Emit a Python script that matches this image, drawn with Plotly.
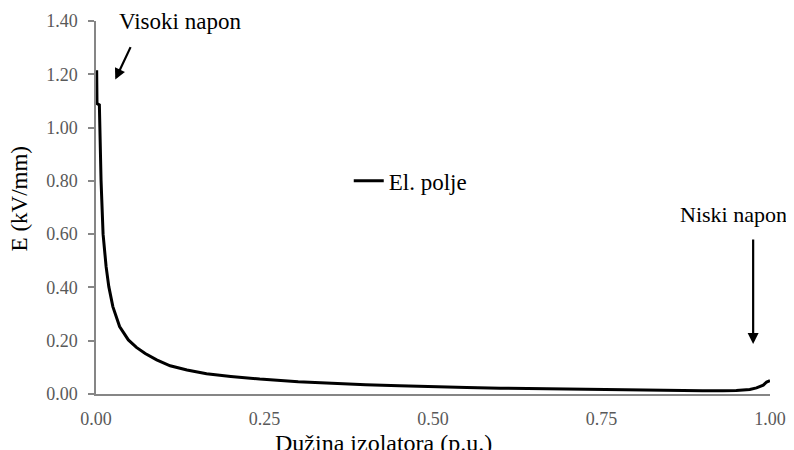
import plotly.graph_objects as go

# Data
x_pu = [0.001, 0.0015, 0.005, 0.0075, 0.0105, 0.015, 0.019, 0.025, 0.035, 0.048,
        0.060, 0.073, 0.090, 0.110, 0.135, 0.164, 0.200, 0.243, 0.300, 0.350,
        0.400, 0.450, 0.500, 0.550, 0.600, 0.650, 0.700, 0.750, 0.800, 0.850,
        0.900, 0.930, 0.950, 0.970, 0.980, 0.990, 0.995, 1.000]
E_field = [1.215, 1.090, 1.085, 0.800, 0.600, 0.478, 0.403, 0.328, 0.253, 0.203,
           0.175, 0.152, 0.128, 0.106, 0.090, 0.076, 0.066, 0.056, 0.046, 0.040,
           0.035, 0.031, 0.027, 0.024, 0.022, 0.020, 0.018, 0.016, 0.015, 0.013,
           0.012, 0.012, 0.013, 0.017, 0.023, 0.033, 0.045, 0.050]

x_ticks = [0.0, 0.25, 0.5, 0.75, 1.0]
x_ticklabels = ["0.00", "0.25", "0.50", "0.75", "1.00"]
y_ticks = [0.0, 0.2, 0.4, 0.6, 0.8, 1.0, 1.2, 1.4]
y_ticklabels = ["0.00", "0.20", "0.40", "0.60", "0.80", "1.00", "1.20", "1.40"]

series_name = "El. polje"
x_title = "Dužina izolatora (p.u.)"
y_title = "E (kV/mm)"
label_high = "Visoki napon"
label_low = "Niski napon"

FONT = "Liberation Serif, Times New Roman, serif"
AXIS_GRAY = "#868686"
TICK_GRAY = "#595959"

fig = go.Figure()
fig.add_trace(go.Scatter(
    x=x_pu, y=E_field, mode="lines", name=series_name,
    line=dict(color="black", width=3),
    showlegend=True,
))

fig.update_layout(
    width=786, height=442,
    margin=dict(l=88, r=24, t=13, b=56, autoexpand=False),
    paper_bgcolor="white", plot_bgcolor="white",
    font=dict(family=FONT, color="black"),
    showlegend=True,
    legend=dict(
        x=0.375, y=0.5717, xanchor="left", yanchor="middle",
        font=dict(family=FONT, size=23, color="black"),
        bgcolor="rgba(0,0,0,0)", borderwidth=0,
    ),
    xaxis=dict(
        range=[0, 1], tickvals=x_ticks, ticktext=x_ticklabels,
        showgrid=False, zeroline=False, showline=True,
        linecolor=AXIS_GRAY, linewidth=1.5, automargin=False,
        ticks="", tickfont=dict(family=FONT, size=18, color=TICK_GRAY),
        ticklabelstandoff=8,
    ),
    yaxis=dict(
        range=[0, 1.4], tickvals=y_ticks, ticktext=y_ticklabels,
        showgrid=False, zeroline=False, showline=True,
        linecolor=AXIS_GRAY, linewidth=1.5, automargin=False,
        ticks="outside", ticklen=6, tickcolor=AXIS_GRAY, tickwidth=1.5,
        tickfont=dict(family=FONT, size=18, color=TICK_GRAY),
        ticklabelstandoff=7,
    ),
)

annotations = [
    # axis titles
    dict(text=x_title, xref="paper", yref="paper", x=0.427, y=-0.131,
         xanchor="center", yanchor="middle", showarrow=False,
         font=dict(family=FONT, size=24, color="black")),
    dict(text=y_title, xref="paper", yref="paper", x=-0.113, y=0.524,
         xanchor="center", yanchor="middle", showarrow=False, textangle=-90,
         font=dict(family=FONT, size=23, color="black")),
    # labels
    dict(text=label_high, xref="x", yref="y", x=0.125, y=1.40,
         xanchor="center", yanchor="middle", showarrow=False,
         font=dict(family=FONT, size=23, color="black")),
    dict(text=label_low, xref="x", yref="y", x=0.946, y=0.672,
         xanchor="center", yanchor="middle", showarrow=False,
         font=dict(family=FONT, size=22, color="black")),
    # arrows
    dict(text="", xref="x", yref="y", x=0.0286, y=1.18, ax=16, ay=-34,
         showarrow=True, arrowhead=2, arrowsize=1, arrowwidth=2.2,
         arrowcolor="black", standoff=0),
    dict(text="", xref="x", yref="y", x=0.975, y=0.188, ax=0, ay=-106,
         showarrow=True, arrowhead=2, arrowsize=1, arrowwidth=2.2,
         arrowcolor="black", standoff=0),
]
fig.update_layout(annotations=annotations)

fig.write_html("out.html")
